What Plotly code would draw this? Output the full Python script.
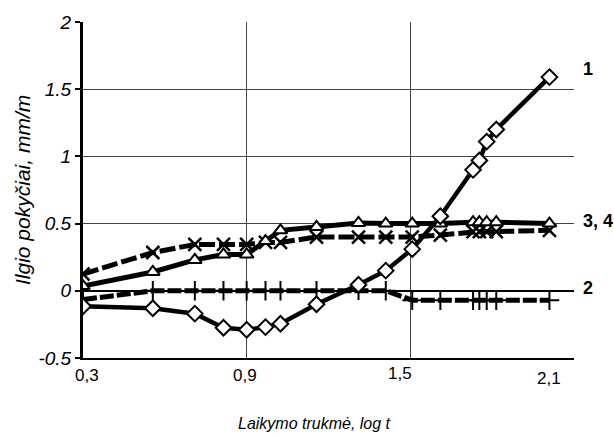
# deformation curves, 4 series, log time axis
import plotly.graph_objects as go

log_t = [0.3, 0.556, 0.71, 0.815, 0.9, 0.969, 1.024, 1.156, 1.31, 1.41,
         1.507, 1.61, 1.73, 1.753, 1.78, 1.815, 2.01]

s1 = [-0.115, -0.13, -0.17, -0.275, -0.29, -0.27, -0.245, -0.10, 0.045, 0.15,
      0.31, 0.555, 0.9, 0.97, 1.11, 1.2, 1.59]
s2 = [-0.065, 0, 0, 0, 0, 0, 0, 0, 0.005, 0,
      -0.07, -0.07, -0.07, -0.07, -0.07, -0.07, -0.07]
s3 = [0.035, 0.14, 0.23, 0.27, 0.27, 0.37, 0.45, 0.475, 0.505, 0.5,
      0.5, 0.5, 0.51, 0.51, 0.51, 0.51, 0.5]
s4 = [0.125, 0.285, 0.345, 0.345, 0.345, 0.36, 0.36, 0.40, 0.40, 0.40,
      0.40, 0.415, 0.44, 0.44, 0.44, 0.44, 0.45]

x_ticks = [0.3, 0.9, 1.5, 2.1]
x_tick_text = ["0,3", "0,9", "1,5", "2,1"]
y_ticks = [-0.5, 0, 0.5, 1, 1.5, 2]
y_tick_text = ["-0.5", "0", "0.5", "1", "1.5", "2"]

curve_labels = ["1", "2", "3, 4"]
curve_label_y = [1.65, 0.02, 0.52]

FONT = "Arial"

fig = go.Figure()

fig.add_trace(go.Scatter(
    x=log_t, y=s4, mode="lines+markers",
    line=dict(color="black", width=5, dash="16px,4px"),
    marker=dict(symbol="x-thin", size=13, line=dict(color="black", width=2.5))))
fig.add_trace(go.Scatter(
    x=log_t, y=s3, mode="lines+markers",
    line=dict(color="black", width=5),
    marker=dict(symbol="triangle-up", size=12, color="white",
                line=dict(color="black", width=2))))
fig.add_trace(go.Scatter(
    x=log_t, y=s2, mode="lines+markers",
    line=dict(color="black", width=5, dash="14px,3px"),
    marker=dict(symbol="cross-thin", size=14, line=dict(color="black", width=2))))
fig.add_trace(go.Scatter(
    x=log_t, y=s1, mode="lines+markers",
    line=dict(color="black", width=4.5),
    marker=dict(symbol="diamond", size=12, color="white",
                line=dict(color="black", width=2))))

# x tick labels are offset in the original, draw them as annotations
x_shift = [4, -2, -10, -25]
y_shift = [-17, -17, -15, -20]
for v, t, dx, dy in zip(x_ticks, x_tick_text, x_shift, y_shift):
    fig.add_annotation(x=v, xref="x", y=0, yref="paper", text=t, showarrow=False,
                       xanchor="center", yanchor="middle", xshift=dx, yshift=dy,
                       font=dict(family=FONT, size=17, color="black"))

for t, yv in zip(curve_labels, curve_label_y):
    fig.add_annotation(x=1, xref="paper", y=yv, yref="y", text="<b>%s</b>" % t,
                       showarrow=False, xanchor="left", yanchor="middle", xshift=7,
                       font=dict(family=FONT, size=18, color="black"))

fig.add_annotation(x=0, xref="paper", y=0.5, yref="paper", text="Ilgio pokyčiai, mm/m",
                   textangle=-90, showarrow=False, xanchor="center", yanchor="middle",
                   xshift=-61, font=dict(family=FONT, size=21, color="black", style="italic"))
fig.add_annotation(x=0.5, xref="paper", y=0, yref="paper", text="Laikymo trukmė, log t",
                   showarrow=False, xanchor="center", yanchor="middle",
                   xshift=-14, yshift=-65,
                   font=dict(family=FONT, size=16, color="black", style="italic"))

fig.update_xaxes(range=[0.3, 2.1], tickvals=x_ticks, showticklabels=False,
                 showgrid=True, gridcolor="#444444", gridwidth=1,
                 showline=True, linecolor="black", linewidth=1.5,
                 zeroline=False, ticks="")
fig.update_yaxes(range=[-0.5, 2], tickvals=y_ticks, ticktext=y_tick_text,
                 showgrid=True, gridcolor="#444444", gridwidth=1,
                 showline=True, linecolor="black", linewidth=3,
                 zeroline=True, zerolinecolor="black", zerolinewidth=2,
                 ticks="outside", ticklen=5, tickcolor="black", tickwidth=1.5,
                 tickfont=dict(family=FONT, size=19, color="black", style="italic"))

fig.update_layout(
    width=614, height=440,
    showlegend=False,
    plot_bgcolor="white", paper_bgcolor="white",
    margin={'l': 83, 'r': 40, 't': 16, 'b': 82})

# page body has an 8px default margin, drop it so the figure sits at 0,0
fig.write_html("out.html", config={'displayModeBar': False},
               post_script="document.body.style.margin='0';")
